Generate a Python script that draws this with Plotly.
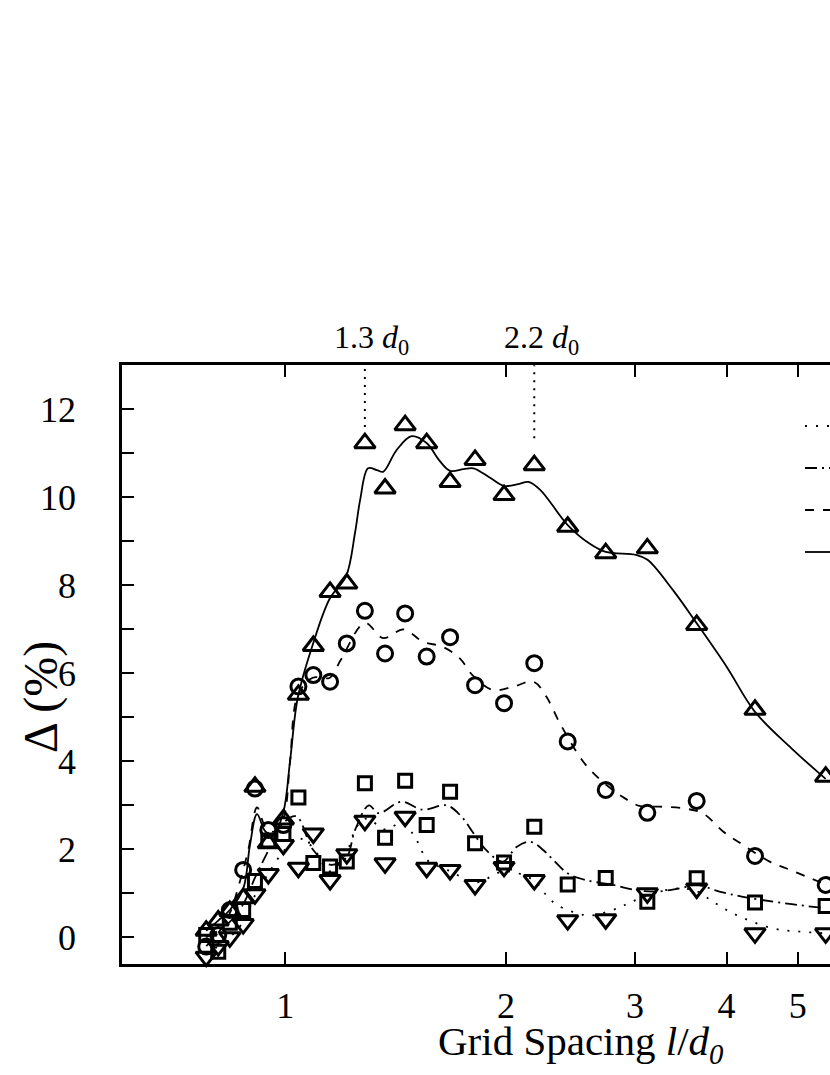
import numpy as np
import plotly.graph_objects as go

# grid spacing l/d0 of the simulated points
x_pts = [0.78, 0.81, 0.84, 0.876, 0.909, 0.948, 0.994, 1.042, 1.092, 1.151, 1.213, 1.284, 1.368,
         1.457, 1.559, 1.678, 1.815, 1.988, 2.186, 2.428, 2.736, 3.118, 3.641, 4.373, 5.46]

# Delta (%) for each series
tri_up = [0.15, 0.38, 0.6, 0.89, 3.42, 2.14, 2.68, 5.51, 6.62, 7.85, 8.04, 11.23, 10.2,
          11.64, 11.23, 10.35, 10.85, 10.05, 10.73, 9.33, 8.73, 8.84, 7.1, 5.17, 3.65]
circ = [-0.21, 0.05, 0.62, 1.53, 3.38, 2.44, 2.55, 5.7, 5.96, 5.81, 6.68, 7.42, 6.45,
        7.36, 6.38, 6.82, 5.73, 5.32, 6.23, 4.45, 3.35, 2.83, 3.1, 1.85, 1.19]
sq = [0.05, -0.33, 0.33, 0.62, 1.28, 2.2, 2.35, 3.18, 1.69, 1.61, 1.72, 3.5, 2.26,
      3.56, 2.55, 3.31, 2.14, 1.7, 2.51, 1.2, 1.35, 0.81, 1.34, 0.79, 0.71]
tri_dn = [-0.44, -0.2, 0.0, 0.3, 0.98, 1.44, 2.1, 1.58, 2.36, 1.3, 1.89, 2.65, 1.68,
          2.74, 1.58, 1.53, 1.19, 1.6, 1.3, 0.39, 0.41, 1.0, 1.11, 0.09, 0.09]

# smoothed curves
solid_x = [0.78, 0.81, 0.84, 0.876, 0.895, 0.915, 0.94, 0.965, 0.994, 1.015, 1.04, 1.09, 1.15,
           1.21, 1.245, 1.265, 1.297, 1.333, 1.36, 1.418, 1.487, 1.56, 1.62, 1.678, 1.75, 1.806,
           1.9, 1.988, 2.08, 2.146, 2.227, 2.428, 2.6, 2.736, 3.01, 3.12, 3.38, 3.64, 4.0, 4.37,
           4.9, 5.46]
solid_y = [0.15, 0.38, 0.62, 1.1, 2.1, 2.8, 2.4, 2.35, 2.85, 4.0, 5.45, 6.65, 7.7,
           8.2, 9.2, 9.94, 10.66, 10.62, 10.58, 11.07, 11.39, 11.23, 10.85, 10.6, 10.64, 10.66,
           10.45, 10.26, 10.3, 10.35, 10.17, 9.37, 8.95, 8.76, 8.69, 8.58, 7.89, 7.14, 6.15, 5.13,
           4.3, 3.6]
dash_x = [0.78, 0.81, 0.84, 0.863, 0.89, 0.915, 0.94, 0.965, 0.994, 1.015, 1.04, 1.09, 1.15,
          1.19, 1.284, 1.36, 1.45, 1.54, 1.64, 1.73, 1.8, 1.92, 2.05, 2.18, 2.27, 2.37, 2.55,
          2.69, 2.88, 3.05, 3.24, 3.49, 3.71, 3.96, 4.21, 4.58, 4.82, 5.14, 5.46]
dash_y = [-0.2, 0.1, 0.55, 1.15, 1.98, 2.95, 2.5, 2.4, 2.7, 4.0, 5.5, 5.9, 5.9,
          6.3, 7.14, 6.8, 7.0, 6.72, 6.6, 6.34, 5.96, 5.62, 5.7, 5.81, 5.47, 4.86, 3.99,
          3.58, 3.2, 2.98, 2.97, 2.93, 2.82, 2.4, 2.1, 1.72, 1.57, 1.38, 1.2]
dashdot_x = [0.78, 0.81, 0.84, 0.876, 0.909, 0.95, 0.994, 1.035, 1.09, 1.15, 1.21, 1.245, 1.3,
             1.34, 1.44, 1.54, 1.66, 1.74, 1.8, 1.88, 1.98, 2.07, 2.16, 2.25, 2.32, 2.43, 2.57,
             2.8, 3.01, 3.21, 3.45, 3.64, 3.91, 4.21, 4.63, 5.03, 5.46]
dashdot_y = [0.0, 0.15, 0.35, 0.75, 1.35, 2.0, 2.6, 2.75, 2.0, 1.65, 1.8, 2.44, 3.0,
             2.82, 3.08, 2.9, 3.0, 2.74, 2.4, 1.98, 1.72, 2.06, 2.17, 1.98, 1.76, 1.45, 1.3,
             1.19, 1.07, 1.04, 1.11, 1.19, 1.04, 0.92, 0.81, 0.73, 0.66]
dot_x = [0.78, 0.81, 0.84, 0.876, 0.909, 0.948, 0.994, 1.04, 1.09, 1.15, 1.21, 1.25, 1.29,
         1.37, 1.44, 1.5, 1.53, 1.56, 1.68, 1.82, 1.99, 2.18, 2.27, 2.35, 2.55, 2.63, 2.84,
         2.97, 3.24, 3.45, 3.64, 3.83, 4.12, 4.63, 5.03, 5.46]
dot_y = [-0.4, -0.2, 0.0, 0.35, 0.95, 1.45, 1.95, 2.25, 2.05, 1.5, 1.9, 2.5, 2.7,
         2.45, 2.6, 2.3, 2.02, 1.76, 1.5, 1.25, 1.5, 1.3, 0.96, 0.73, 0.51, 0.5, 0.66,
         0.81, 1.04, 1.11, 1.05, 0.81, 0.51, 0.2, 0.13, 0.09]

series_names = ["case 1", "case 2", "case 3", "case 4"]
marked = [(1.284, 11.6, "1.3"), (2.186, 11.34, "2.2")]

FONT = "Liberation Serif"
fig = go.Figure()

curves = [
    (dot_x, dot_y, "2px,9px", series_names[0]),
    (dashdot_x, dashdot_y, "12px,5px,2px,5px", series_names[1]),
    (dash_x, dash_y, "9px,9px", series_names[2]),
    (solid_x, solid_y, "solid", series_names[3]),
]
for cx, cy, dash, name in curves:
    fig.add_trace(go.Scatter(x=cx, y=cy, mode="lines", name=name,
                             line=dict(color="black", width=1.8, dash=dash, shape="spline"),
                             cliponaxis=True))

markers = [(tri_dn, "triangle-down-open", 18), (sq, "square-open", 13),
           (circ, "circle-open", 15), (tri_up, "triangle-up-open", 18)]
for ys, sym, size in markers:
    fig.add_trace(go.Scatter(x=x_pts, y=ys, mode="markers", showlegend=False,
                             marker=dict(symbol=sym, size=size, color="black",
                                         line=dict(color="black", width=3)),
                             cliponaxis=False))

for xv, yv, lab in marked:
    fig.add_shape(type="line", xref="x", yref="y", x0=xv, x1=xv, y0=yv, y1=13.0,
                  line=dict(color="black", width=2, dash="2px,6px"))
    fig.add_annotation(x=np.log10(xv), y=1.0, xref="x", yref="paper",
                       text=lab + " <i>d</i><sub>0</sub>", showarrow=False,
                       xanchor="center", yanchor="bottom", yshift=3, xshift=7,
                       font=dict(family=FONT, size=32, color="black"))

fig.add_annotation(x=(580 - 122) / 708, y=(964 - 1044) / 599, xref="paper", yref="paper",
                   text="Grid Spacing <i>l</i>/<i>d</i><sub><i>0</i></sub>", showarrow=False,
                   xanchor="center", yanchor="middle", borderpad=0,
                   font=dict(family=FONT, size=41, color="black"))
fig.add_annotation(x=(41 - 122) / 708, y=(964 - 697) / 599, xref="paper", yref="paper",
                   text="Δ (%)", textangle=-90, showarrow=False,
                   xanchor="center", yanchor="middle",
                   font=dict(family=FONT, size=48, color="black"))

fig.update_xaxes(type="log", range=[-0.2228, 0.7431], tickvals=[1, 2, 3, 4, 5],
                 ticktext=["1", "2", "3", "4", "5"], ticks="inside", ticklen=12, tickwidth=2,
                 tickcolor="black", showline=True, linewidth=2.5, linecolor="black",
                 mirror="ticks", showgrid=False, zeroline=False, ticklabelstandoff=8,
                 tickfont=dict(family=FONT, size=36, color="black"))
fig.update_yaxes(range=[-0.607, 13.007], tickvals=list(range(13)),
                 ticktext=[str(v) if v % 2 == 0 else "" for v in range(13)],
                 ticks="inside", ticklen=12, tickwidth=2, tickcolor="black",
                 showline=True, linewidth=2.5, linecolor="black", mirror=False,
                 showgrid=False, zeroline=False, ticklabelstandoff=36,
                 tickfont=dict(family=FONT, size=36, color="black"))

fig.update_layout(width=830, height=1075, plot_bgcolor="white", paper_bgcolor="white",
                  margin=dict(l=122, r=0, t=365, b=111, autoexpand=False),
                  legend=dict(x=(800 - 122) / 708, y=(964 - 400) / 599, xanchor="left",
                              yanchor="top", bgcolor="rgba(0,0,0,0)",
                              font=dict(family=FONT, size=30, color="black")))

fig.write_html("out.html", config={"displayModeBar": False},
               post_script="document.body.style.margin='0';document.body.style.overflow='hidden';")
